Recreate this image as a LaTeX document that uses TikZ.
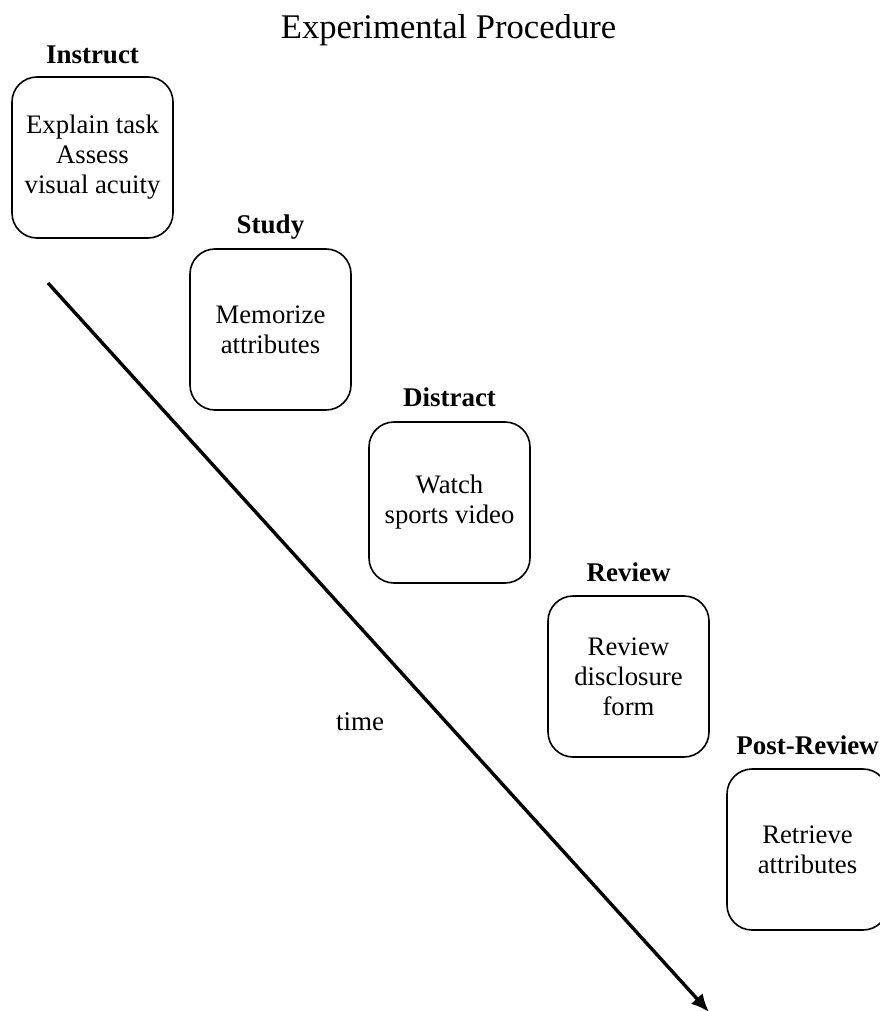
\documentclass[tikz,border=0pt]{standalone}
\usepackage{fontspec}
\setmainfont{Liberation Serif}
\usetikzlibrary{arrows.meta}
\begin{document}
\begin{tikzpicture}[x=1pt,y=-1pt,
  stagebox/.style={draw=black, line width=1.6pt, rounded corners=25pt,
    minimum width=161pt, minimum height=161pt, inner sep=0pt, align=center,
    font=\fontsize{26.7}{30}\selectfont},
  stagelabel/.style={anchor=base, inner sep=0pt, font=\fontsize{27}{30}\selectfont\bfseries},
  timearrow/.style={line width=3.4pt, -{Latex[length=18pt,width=16pt]}}]
\useasboundingbox (0,0) rectangle (879,1011);
\node[anchor=base, inner sep=0pt, font=\fontsize{34.6}{40}\selectfont] (title) at (448.5,39) {Experimental Procedure};

\node[stagebox] (b1) at (92.5,157.5) {Explain task\\Assess\\visual acuity};
\node[stagebox] (b2) at (270.5,329.5) {Memorize\\attributes};
\node[stagebox] (b3) at (449.5,502.5) {Watch\\sports video};
\node[stagebox] (b4) at (628.5,676.5) {Review\\disclosure\\form};
\node[stagebox] (b5) at (807.5,849.5) {Retrieve\\attributes};

\node[stagelabel] (l1) at ([yshift=13pt]b1.north) {Instruct};
\node[stagelabel] (l2) at ([yshift=15pt]b2.north) {Study};
\node[stagelabel] (l3) at ([yshift=15pt]b3.north) {Distract};
\node[stagelabel] (l4) at ([yshift=14pt]b4.north) {Review};
\node[stagelabel] (l5) at ([yshift=14pt]b5.north) {Post-Review};

\coordinate (ts) at (48,283);
\coordinate (te) at (709,1012);
\draw[timearrow] (ts) -- (te);
\node[inner sep=0pt, font=\fontsize{27}{30}\selectfont] (time) at (360,722) {time};
\end{tikzpicture}
\end{document}
